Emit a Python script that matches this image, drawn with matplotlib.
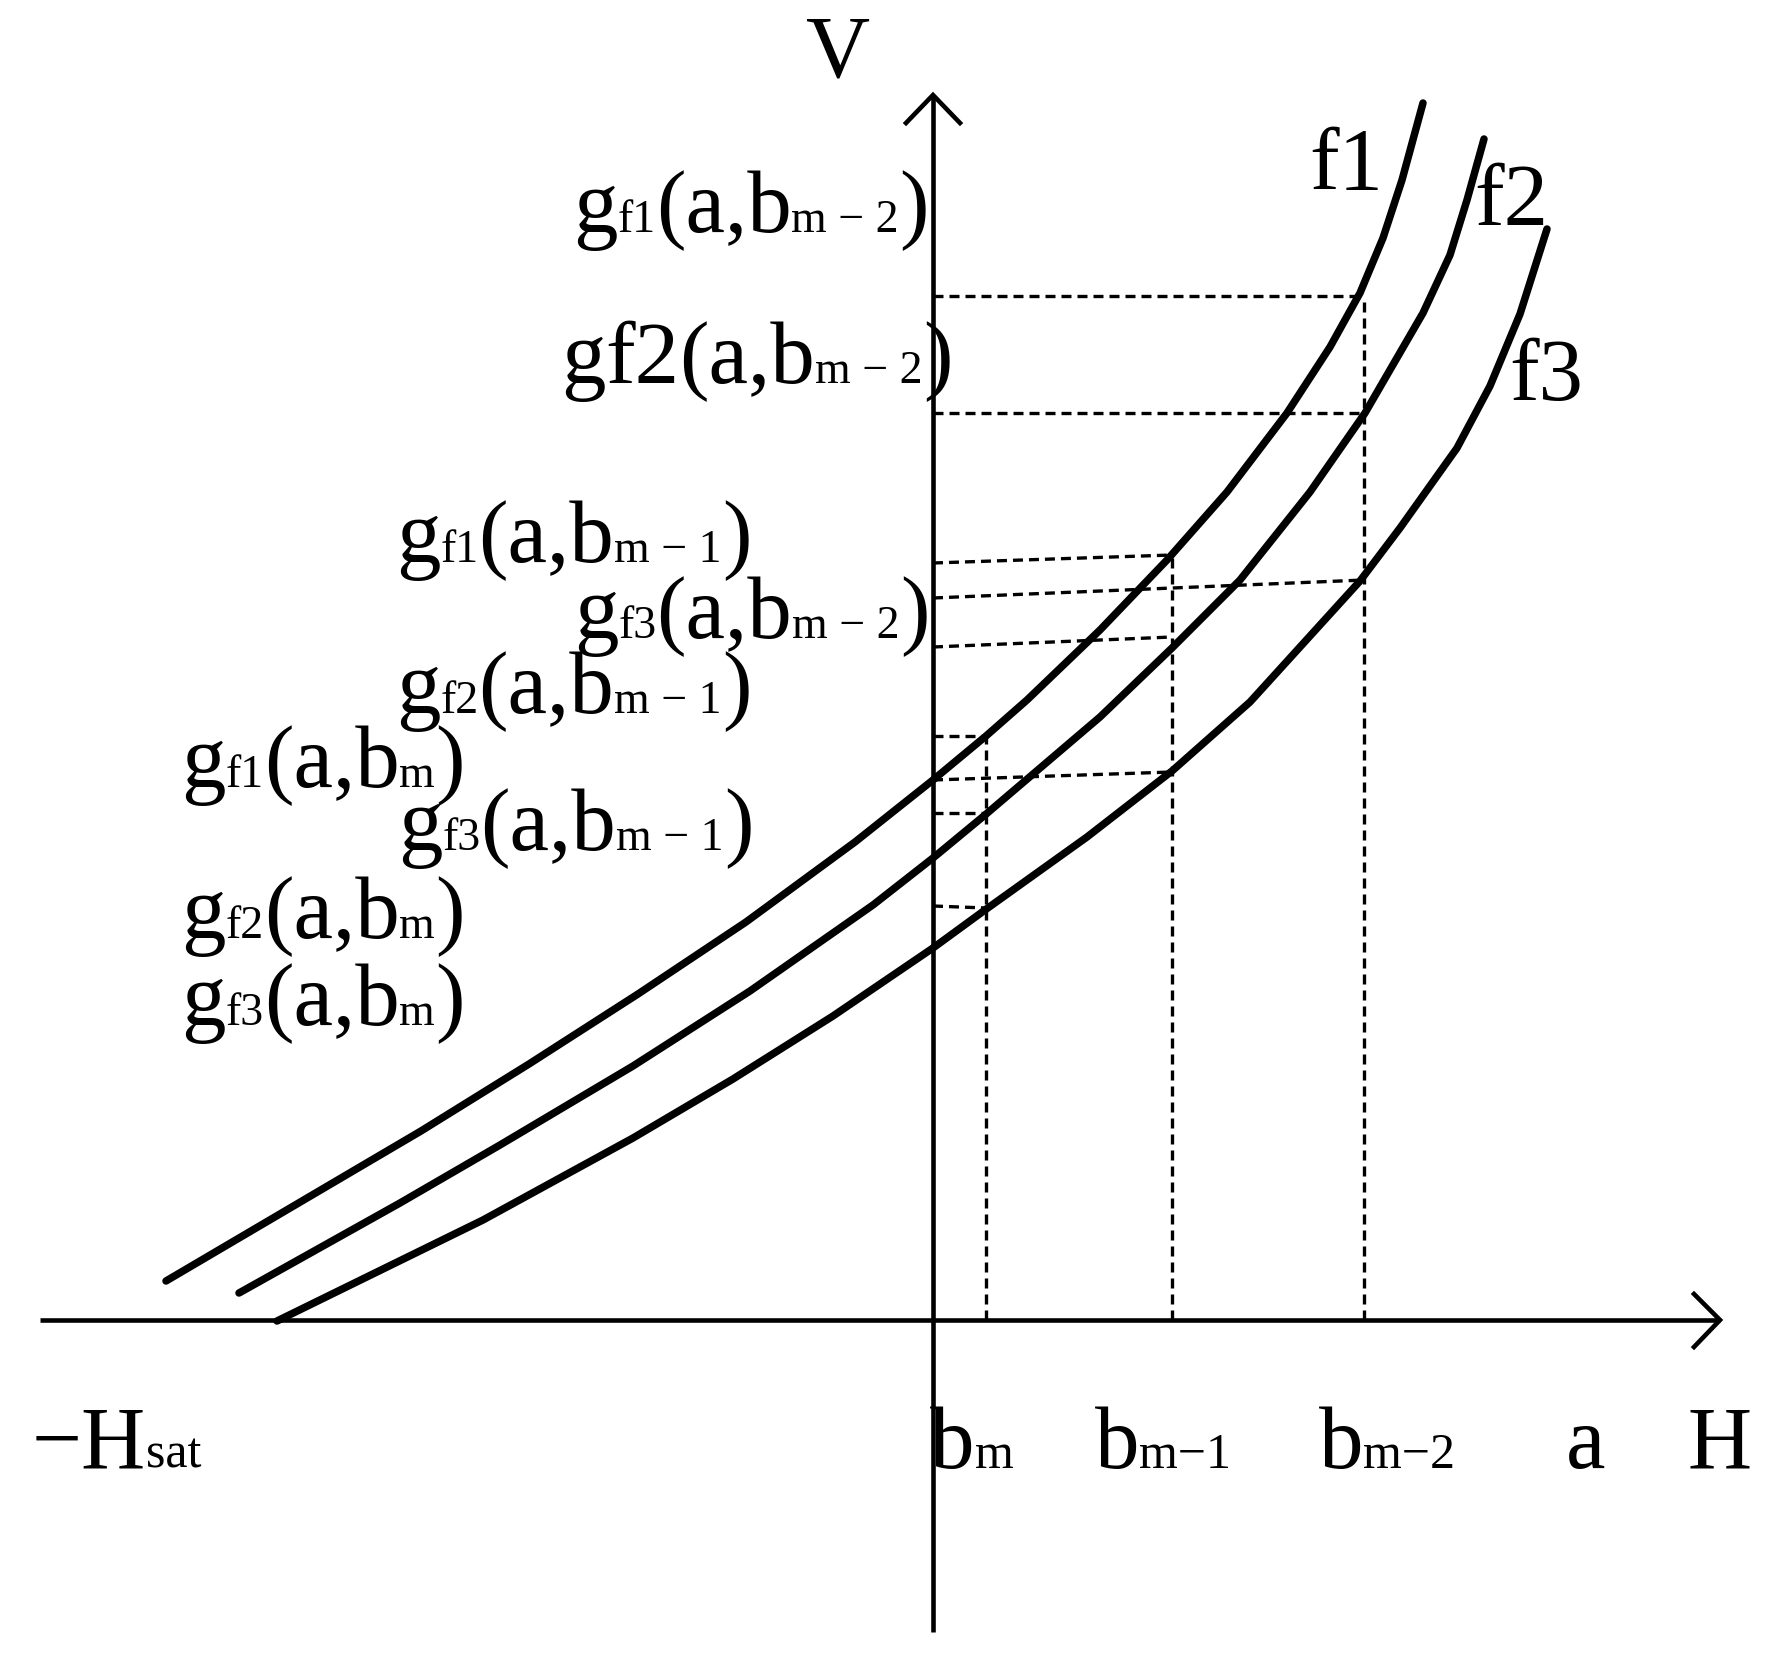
import matplotlib
matplotlib.use("Agg")
import matplotlib.pyplot as plt

plt.rcParams['font.family'] = ['Liberation Serif', 'DejaVu Serif']

# ---- data (H, V); origin at the axes crossing ----
f1_H = [-767, -512, -404, -295, -187, -78, 0, 53, 94, 167, 234, 294, 354, 397, 427, 450, 469, 490]
f1_V = [39, 189, 256, 326, 398, 478, 540, 584, 620, 690, 760, 828, 907, 973, 1027, 1082, 1140, 1217]
f2_H = [-694, -533, -433, -300, -183, -60, 0, 52, 167, 239, 307, 377, 432, 490, 517, 534, 551]
f2_V = [27, 117, 175, 254, 329, 415, 462, 505, 603, 672, 740, 828, 907, 1007, 1065, 1120, 1181]
f3_H = [-656, -450, -300, -200, -100, 0, 52, 154, 239, 317, 427, 467, 524, 557, 587, 614]
f3_V = [-1, 100, 182, 241, 304, 372, 410, 483, 549, 618, 739, 792, 872, 934, 1006, 1091]

b_values = [53, 239, 431]                 # b_m, b_{m-1}, b_{m-2}
b_labels = ["m", "m\u22121", "m\u22122"]
# g values on the curves at b_m, b_{m-1}, b_{m-2}, and where each guide meets the V axis
g_f1_curve = [584, 765, 1024]
g_f1_axis = [584, 757, 1024]
g_f2_curve = [507, 683, 907]
g_f2_axis = [507, 673, 907]
g_f3_curve = [412, 548, 740]
g_f3_axis = [414, 540, 722]

curve_names = ["f1", "f2", "f3"]

# ---- figure ----
W, H = 1777, 1670
X0, Y0 = 933, 1320
fig = plt.figure(figsize=(W / 100, H / 100), dpi=100)
ax = fig.add_axes([0, 0, 1, 1])
ax.set_xlim(-X0, W - X0)
ax.set_ylim(Y0 - H, Y0)
ax.axis('off')

# axes with open arrowheads
axis_kw = dict(color='black', lw=3.3, solid_capstyle='butt')
ax.plot([-893, 787], [0, 0], **axis_kw)
ax.plot([0, 0], [-312, 1225], **axis_kw)
ax.plot([-27, 0, 27], [1197, 1225, 1197], color='black', lw=3.3, solid_joinstyle='miter')
ax.plot([761, 787, 761], [26, 0, -27], color='black', lw=3.3, solid_joinstyle='miter')

# curves
for hs, vs in [(f1_H, f1_V), (f2_H, f2_V), (f3_H, f3_V)]:
    ax.plot(hs, vs, color='black', lw=5.4, solid_capstyle='round', solid_joinstyle='round')

# dotted guides
dot_kw = dict(color='black', lw=2.4, linestyle=(0, (3.0, 1.8)), dash_capstyle='butt')
tops = [max(a, b, c) for a, b, c in zip(g_f1_curve, g_f2_curve, g_f3_curve)]
for b, top in zip(b_values, tops):
    ax.plot([b, b], [0, top], **dot_kw)
for curve, axisv in [(g_f1_curve, g_f1_axis), (g_f2_curve, g_f2_axis), (g_f3_curve, g_f3_axis)]:
    for b, vc, va in zip(b_values, curve, axisv):
        ax.plot([0, b], [va, vc], **dot_kw)

# ---- text ----
fig.canvas.draw()
renderer = fig.canvas.get_renderer()
BIG, SMALL, SMALL_B = 64, 33, 36


def rich(x, y, parts):
    for txt, size in parts:
        t = ax.text(x, y, txt, fontsize=size, ha='left', va='baseline', color='black')
        x += t.get_window_extent(renderer=renderer).width


def g_label(x, y, fname, bsub, sub_f=True):
    parts = [("g", BIG), (fname, SMALL if sub_f else BIG), ("(a,b", BIG)]
    parts += [(bsub.replace("\u2212", " \u2212 "), SMALL), (")", BIG)]
    rich(x, y, parts)


g_label(-360, 1088, curve_names[0], b_labels[2])
g_label(-372, 937, curve_names[1], b_labels[2], sub_f=False)
g_label(-537, 758, curve_names[0], b_labels[1])
g_label(-359, 682, curve_names[2], b_labels[2])
g_label(-537, 607, curve_names[1], b_labels[1])
g_label(-752, 533, curve_names[0], b_labels[0])
g_label(-535, 470, curve_names[2], b_labels[1])
g_label(-752, 382, curve_names[1], b_labels[0])
g_label(-752, 295, curve_names[2], b_labels[0])

rich(376, 1131, [(curve_names[0], BIG)])
rich(541, 1095, [(curve_names[1], BIG)])
rich(576, 920, [(curve_names[2], BIG)])
rich(-127, 1243, [("V", BIG)])

base = -148
rich(-901, base, [("\u2212H", BIG), ("sat", SMALL_B)])
for bx, lab in zip([-3, 162, 386], b_labels):
    rich(bx, base, [("b", BIG), (lab, SMALL_B)])
rich(633, base, [("a", BIG)])
rich(754, base, [("H", BIG)])

fig.savefig("out.png", dpi=100, facecolor='white')
